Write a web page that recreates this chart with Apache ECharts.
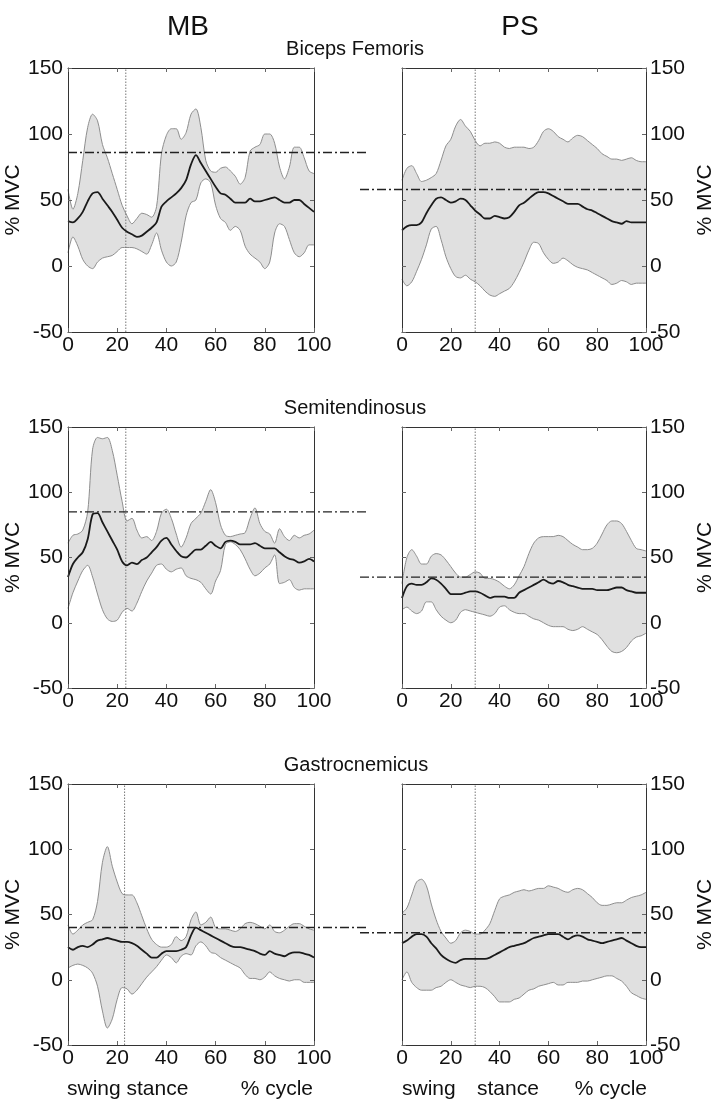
<!DOCTYPE html>
<html><head><meta charset="utf-8">
<script src="https://cdn.jsdelivr.net/npm/echarts@6/dist/echarts.min.js"></script>
<style>html,body{margin:0;padding:0;background:#fff}#c{width:717px;height:1104px}</style>
</head><body><div id="c"></div>
<script>
// ---------------- data ----------------
const cyclePct = [0,2,4,6,8,10,12,14,16,18,20,22,24,26,28,30,32,34,36,38,40,42,44,46,48,50,52,54,56,58,60,62,64,66,68,70,72,74,76,78,80,82,84,86,88,90,92,94,96,98,100];
const yTicks = [-50, 0, 50, 100, 150];
const xTicks = [0, 20, 40, 60, 80, 100];
const columnTitles = ['MB', 'PS'];
const muscleNames = ['Biceps Femoris', 'Semitendinosus', 'Gastrocnemicus'];

// Biceps Femoris – MB
const bfMbUpper = [58,43,55,80,105,115,110,92,82,70,58,46,38,32,36,40,39,37,45,85,99,104,104,96,101,115,119,105,80,72,71,74,75,72,68,62,67,87,90,92,100,100,93,75,66,75,90,90,82,72,70];
const bfMbMean  = [34,33,36,41,49,55,56,51,46,41,35,29,26,24,22,23,26,29,33,45,49,52,55,59,65,77,84,78,72,66,60,55,54,51,48,48,48,51,49,49,50,51,52,50,48,48,50,50,47,44,41];
const bfMbLower = [10,22,15,5,0,-2,3,6,7,8,11,14,14,14,13,11,9,16,25,12,3,0,3,18,38,48,50,63,66,63,46,36,33,27,30,27,15,9,6,3,-2,3,25,32,30,20,10,7,10,16,16];
// Biceps Femoris – PS
const bfPsUpper = [65,74,76,70,64,65,67,70,80,91,96,106,111,106,102,95,91,93,93,94,93,90,89,90,90,90,89,90,95,102,104,102,98,96,94,97,99,98,95,92,89,85,83,81,81,80,81,82,80,79,79];
const bfPsMean  = [27,30,31,31,33,40,46,51,52,50,48,49,51,50,46,42,39,36,36,38,37,36,37,41,46,48,51,54,56,56,55,53,51,49,47,47,47,45,43,42,40,38,36,34,33,32,34,33,33,33,33];
const bfPsLower = [-10,-15,-12,-4,5,16,28,30,20,7,-2,-8,-9,-7,-10,-12,-15,-19,-22,-23,-21,-19,-17,-12,-5,3,12,18,17,10,5,2,3,6,4,1,-1,-2,-3,-5,-7,-9,-11,-14,-13,-11,-12,-14,-13,-13,-13];
// Semitendinosus – MB
const stMbUpper = [61,67,68,71,85,133,142,141,142,132,113,93,78,80,71,65,66,63,70,84,87,80,68,58,65,76,80,84,93,102,92,75,67,66,67,68,69,80,88,76,70,68,61,72,66,63,67,65,67,68,71];
const stMbMean  = [35,45,50,54,64,83,84,77,70,63,56,47,44,46,45,48,50,54,58,63,65,60,55,51,50,53,56,56,59,62,59,57,62,63,62,60,60,60,61,59,57,57,57,54,51,49,48,46,47,49,47];
const stMbLower = [11,23,32,40,44,35,22,10,3,1,2,8,11,9,15,24,32,38,44,45,41,39,41,42,36,34,33,31,26,22,32,40,60,62,60,56,49,41,36,38,42,45,52,30,31,33,27,25,26,26,26];
// Semitendinosus – PS
const stPsUpper = [30,50,56,51,45,45,51,53,52,48,43,38,35,35,37,39,38,34,34,33,31,28,26,29,36,43,53,61,65,66,66,66,67,66,63,60,58,56,56,57,61,68,75,78,78,76,70,63,57,56,55];
const stPsMean  = [19,28,30,29,29,31,34,33,30,26,22,22,22,23,24,24,23,21,19,20,20,20,19,19,23,25,27,29,31,33,31,30,32,31,29,28,27,26,26,26,25,25,25,26,27,27,25,24,23,23,23];
const stPsLower = [10,12,9,7,9,16,16,10,5,2,0,2,8,10,9,8,7,6,5,7,12,13,10,8,7,7,5,3,2,0,-2,-3,-3,-3,-5,-6,-5,-3,-5,-7,-9,-13,-18,-22,-23,-22,-19,-14,-11,-10,-8];
// Gastrocnemicus – MB
const gaMbUpper = [42,35,38,42,44,46,60,90,102,87,75,66,65,65,59,49,39,31,27,25,25,27,33,30,33,46,52,42,44,48,40,39,39,38,37,39,43,44,43,41,39,42,37,36,38,41,43,43,41,39,38];
const gaMbMean  = [25,23,25,26,25,27,30,31,32,31,30,29,29,28,26,23,20,17,17,20,22,22,22,23,25,34,40,38,36,34,32,30,28,26,25,25,24,23,22,20,19,22,20,19,18,20,21,21,20,19,17];
const gaMbLower = [9,11,12,11,9,5,-5,-24,-37,-30,-15,-6,-7,-11,-8,-3,2,6,10,15,19,17,13,18,20,19,26,29,26,21,20,17,15,13,11,9,4,1,1,0,2,6,3,1,0,-1,0,0,-2,-2,-2];
// Gastrocnemicus – PS
const gaPsUpper = [51,55,65,75,77,72,58,46,37,32,28,30,36,38,37,35,35,38,43,53,62,64,65,67,68,69,68,69,70,70,72,71,70,68,67,69,70,69,66,63,59,57,57,58,59,59,61,63,64,65,67];
const gaPsMean  = [28,30,33,35,35,33,28,24,19,16,14,13,15,16,16,16,16,16,17,19,21,23,25,26,27,28,30,32,33,34,35,35,35,33,31,33,34,33,31,30,29,28,29,30,31,32,30,28,26,25,25];
const gaPsLower = [0,6,-2,-6,-8,-8,-8,-6,-5,-2,0,-2,-4,-5,-6,-5,-5,-6,-9,-13,-17,-17,-17,-15,-14,-11,-8,-7,-5,-4,-3,-2,-4,-4,-2,-2,-2,-1,-1,0,1,2,3,3,1,-1,-5,-10,-12,-14,-15];

// reference (dash-dot) levels and swing/stance transition, panel order: BF-MB, BF-PS, ST-MB, ST-PS, GA-MB, GA-PS
const refLevels = [86, 58, 85, 35, 40, 36];
const stanceOnset = [23.5, 30, 23.5, 30, 23, 30];

// ---------------- layout / style ----------------
const FONT = '"Liberation Sans", Arial, Helvetica, sans-serif';
const TXT = '#111';
const SMOOTH = 0.3;
const rows = [{top:68,height:264},{top:427,height:261},{top:784,height:261}];
const cols = [
  {left:68, width:246, refLeft:68, refWidth:300, side:'left'},
  {left:402, width:246, refLeft:360, refWidth:288, side:'right'}
];
const panelData = [
  [bfMbUpper,bfMbMean,bfMbLower],[bfPsUpper,bfPsMean,bfPsLower],
  [stMbUpper,stMbMean,stMbLower],[stPsUpper,stPsMean,stPsLower],
  [gaMbUpper,gaMbMean,gaMbLower],[gaPsUpper,gaPsMean,gaPsLower]
];
const cats = cyclePct.map(String);
const tickEvery = (idx, val) => xTicks.indexOf(Number(val)) >= 0;

const grid=[], xAxis=[], yAxis=[], series=[];
const axLine = {show:true, onZero:false, lineStyle:{color:'#333', width:1}};
const tick = {show:true, inside:true, length:4, lineStyle:{color:'#666', width:1}};
const lbl = {fontSize:21, color:TXT, fontFamily:FONT};
const edgeColor = '#8e8e8e';

panelData.forEach((pd, i) => {
  const r = rows[Math.floor(i/2)], c = cols[i%2];
  const [upper, mean, lower] = pd;
  const gMain = grid.length;
  grid.push({left:c.left, top:r.top, width:c.width, height:r.height, containLabel:false});
  const gRef = grid.length;
  grid.push({left:c.refLeft, top:r.top, width:c.refWidth, height:r.height, containLabel:false});

  const xb = xAxis.length;
  xAxis.push({gridIndex:gMain, type:'category', data:cats, boundaryGap:false, position:'bottom', z:6,
    axisLine:axLine, axisTick:Object.assign({interval:tickEvery}, tick), splitLine:{show:false},
    axisLabel:Object.assign({margin:3, interval:tickEvery}, lbl)});
  xAxis.push({gridIndex:gMain, type:'category', data:cats, boundaryGap:false, position:'top', z:6,
    axisLine:axLine, axisTick:Object.assign({interval:tickEvery}, tick), splitLine:{show:false}, axisLabel:{show:false}});
  const xv = xAxis.length;
  xAxis.push({gridIndex:gMain, type:'value', min:0, max:100, show:false});
  const xr = xAxis.length;
  xAxis.push({gridIndex:gRef, type:'value', min:0, max:1, show:false});

  const yl = yAxis.length;
  ['left','right'].forEach(pos => {
    const on = pos === c.side;
    yAxis.push({gridIndex:gMain, type:'value', min:-50, max:150, interval:50, position:pos, z:6,
      axisLine:axLine, axisTick:tick, splitLine:{show:false},
      axisLabel: on ? Object.assign({margin:pos==='left'?5:4, showMinLabel:true, showMaxLabel:true}, lbl) : {show:false},
      name: on ? '% MVC' : '', nameLocation:'middle', nameRotate:90, nameGap: pos==='left'?35:49,
      nameTextStyle:{fontSize:21, color:TXT, fontFamily:FONT}});
  });
  const yr = yAxis.length;
  yAxis.push({gridIndex:gRef, type:'value', min:-50, max:150, show:false});

  const band = 'band'+i;
  // invisible base at the lower bound, then the range stacked on it (filled)
  series.push({type:'line', name:'base'+i, xAxisIndex:xb, yAxisIndex:yl, data:lower,
    stack:band, stackStrategy:'all', smooth:SMOOTH, symbol:'none', silent:true,
    lineStyle:{opacity:0, width:0}, z:1});
  series.push({type:'line', name:'upper'+i, xAxisIndex:xb, yAxisIndex:yl,
    data:upper.map((u,k)=>u-lower[k]),
    stack:band, stackStrategy:'all', smooth:SMOOTH, symbol:'none', silent:true,
    lineStyle:{color:edgeColor, width:1}, areaStyle:{color:'#e0e0e0', opacity:1}, z:2});
  series.push({type:'line', name:'lower'+i, xAxisIndex:xb, yAxisIndex:yl, data:lower,
    smooth:SMOOTH, symbol:'none', silent:true, lineStyle:{color:edgeColor, width:1}, z:3});
  series.push({type:'line', name:'stance'+i, xAxisIndex:xv, yAxisIndex:yl,
    data:[[stanceOnset[i],-50],[stanceOnset[i],150]], symbol:'none', silent:true,
    lineStyle:{color:'#777', width:1, type:[1.5,1.5]}, z:3});
  series.push({type:'line', name:'ref'+i, xAxisIndex:xr, yAxisIndex:yr,
    data:[[0,refLevels[i]],[1,refLevels[i]]], symbol:'none', silent:true,
    lineStyle:{color:'#222', width:1.4, type:[9,3,2,3]}, z:4});
  series.push({type:'line', name:'mean'+i, xAxisIndex:xb, yAxisIndex:yl, data:mean,
    smooth:SMOOTH, symbol:'none', silent:true, lineStyle:{color:'#1a1a1a', width:1.8}, z:5});
});

const txt = (x, y, text, size, align) => ({type:'text', x, y, silent:true,
  style:{text, fontSize:size, fontFamily:FONT, fill:TXT, align:align||'center', verticalAlign:'middle'}});

const graphic = [
  txt(188, 27, columnTitles[0], 28),
  txt(520, 27, columnTitles[1], 28),
  txt(355, 49, muscleNames[0], 20),
  txt(355, 408, muscleNames[1], 20),
  txt(356, 765, muscleNames[2], 20),
  txt(67, 1089, 'swing stance', 21, 'left'),
  txt(313, 1089, '% cycle', 21, 'right'),
  txt(402, 1089, 'swing', 21, 'left'),
  txt(477, 1089, 'stance', 21, 'left'),
  txt(647, 1089, '% cycle', 21, 'right')
];

const chart = echarts.init(document.getElementById('c'), null, {renderer:'canvas'});
chart.setOption({animation:false, backgroundColor:'#fff', grid, xAxis, yAxis, series, graphic});
</script></body></html>
